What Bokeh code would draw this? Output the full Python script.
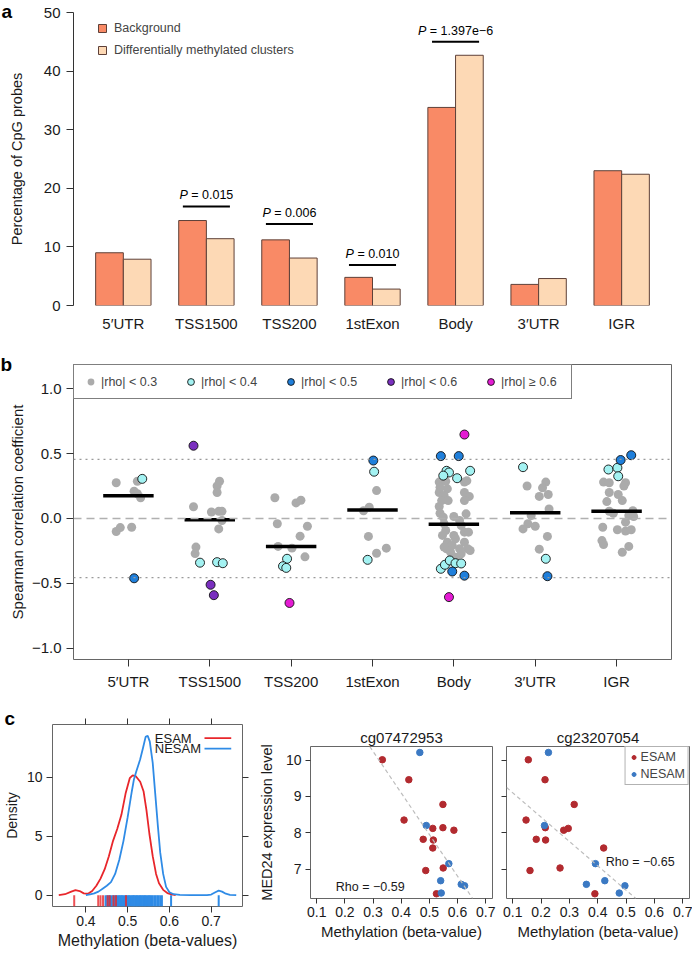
import math
from bokeh.plotting import figure
from bokeh.layouts import column, row
from bokeh.models import (Range1d, FixedTicker, Span, Legend, LegendItem, Title,
                          Slope, LinearAxis)
from bokeh.core.properties import value
from bokeh.embed import file_html
from bokeh.resources import INLINE

FONT = "Liberation Sans"

# ---------------- Panel a data ----------------
regions = ["5′UTR", "TSS1500", "TSS200", "1stExon", "Body", "3′UTR", "IGR"]
background_pct = [9.0, 14.5, 11.2, 4.8, 33.8, 3.6, 23.0]
dmc_pct = [7.9, 11.4, 8.1, 2.8, 42.7, 4.6, 22.4]
p_regions = ["TSS1500", "TSS200", "1stExon", "Body"]
p_values = ["0.015", "0.006", "0.010", "1.397e−6"]
p_bar_level = [16.9, 13.9, 6.9, 45.0]

# ---------------- Panel b data ----------------
median_rho = [0.175, -0.01, -0.215, 0.065, -0.045, 0.045, 0.055]
sig_level = 0.455

rho_5utr = [0.275, 0.287, 0.305, 0.21, 0.19, 0.16, -0.10, -0.07, -0.067, -0.46]
jit_5utr = [-0.15, 0.11, 0.17, 0.07, 0.11, 0.15, -0.15, -0.10, 0.04, 0.07]

rho_tss1500 = [0.56, 0.287, 0.25, 0.20, 0.09, 0.05, 0.055, 0.055, -0.015, -0.08,
               -0.22, -0.27, -0.34, -0.336, -0.344, -0.51, -0.59]
jit_tss1500 = [-0.20, 0.12, 0.09, 0.09, -0.20, 0.02, 0.11, 0.15, 0.15, 0.11,
               -0.17, -0.18, -0.12, 0.09, 0.16, 0.01, 0.05]

rho_tss200 = [0.16, 0.12, 0.14, -0.04, -0.06, -0.136, -0.215, -0.228, -0.295,
              -0.31, -0.367, -0.38, -0.65]
jit_tss200 = [-0.20, 0.06, 0.12, -0.17, 0.20, 0.11, -0.16, 0.01, 0.17,
              -0.05, -0.10, -0.06, -0.02]

rho_1stexon = [0.446, 0.36, 0.215, 0.087, 0.06, -0.138, -0.228, -0.267, -0.318]
jit_1stexon = [0.01, 0.02, 0.05, -0.04, -0.11, -0.05, 0.17, 0.05, -0.06]

rho_body = [0.646, 0.48, 0.48, 0.367, 0.354, 0.33, 0.31, 0.367, -0.387, -0.356,
            -0.323, -0.344, -0.346, -0.408, -0.44, -0.605,
            0.28, 0.287, 0.24, 0.228, 0.28, 0.29, 0.2, 0.177, 0.2, 0.17,
            0.138, 0.138, 0.138, 0.092, 0.04, 0.01, 0.015, 0.036, -0.015, -0.04,
            -0.054, -0.092, -0.13, -0.13, -0.105, -0.105, -0.156, -0.182, -0.182,
            -0.208, -0.233, -0.233, -0.233, -0.246, -0.259, -0.272, -0.22, -0.298]
jit_body = [0.13, -0.16, 0.06, -0.09, -0.06, -0.13, 0.04, 0.20, -0.16, -0.11,
            -0.05, 0.02, 0.09, -0.02, 0.13, -0.06,
            -0.18, -0.10, -0.17, -0.08, 0.13, 0.16, -0.18, -0.12, 0.13, 0.19,
            -0.15, -0.07, 0.13, -0.18, -0.17, -0.13, 0.0, 0.15, 0.07, -0.12,
            0.09, -0.10, -0.14, 0.0, 0.13, 0.18, 0.02, -0.08, 0.13,
            -0.02, -0.09, 0.07, 0.17, 0.20, -0.04, 0.09, -0.12, 0.02]

rho_3utr = [0.395, 0.25, 0.28, 0.236, 0.17, 0.185, 0.074, 0.023, -0.04, -0.08,
            -0.06, -0.138, -0.236, -0.31, -0.444]
jit_3utr = [-0.15, -0.10, 0.13, 0.09, 0.05, 0.16, 0.17, -0.05, -0.09, -0.15,
            0.0, 0.15, 0.05, 0.13, 0.15]

rho_igr = [0.487, 0.45, 0.377, 0.39, 0.325, 0.28, 0.275, 0.275, 0.25, 0.2, 0.185,
           0.13, 0.138, 0.056, 0.04, 0.06, 0.023, 0.015, -0.028, -0.067, -0.087,
           -0.097, -0.087, -0.17, -0.2, -0.215, -0.26]
jit_igr = [0.18, 0.05, -0.10, 0.01, 0.02, -0.16, -0.09, 0.11, 0.09, -0.09, 0.02,
           -0.12, 0.07, -0.09, -0.04, 0.20, 0.15, 0.21, 0.11, -0.17, 0.01,
           0.11, 0.18, -0.18, -0.16, 0.15, 0.07]

rho_lists = [rho_5utr, rho_tss1500, rho_tss200, rho_1stexon, rho_body, rho_3utr, rho_igr]
jit_lists = [jit_5utr, jit_tss1500, jit_tss200, jit_1stexon, jit_body, jit_3utr, jit_igr]

rho_bins = [0.0, 0.3, 0.4, 0.5, 0.6, 9.0]
rho_labels = ["|rho| < 0.3", "|rho| < 0.4", "|rho| < 0.5", "|rho| < 0.6", "|rho| ≥ 0.6"]
rho_colors = ["#ABABAB", "#A3F2F2", "#1F7FDB", "#7A2FBF", "#E41BD3"]

# ---------------- Panel c data ----------------
esam_dens_x = [0.335, 0.35, 0.365, 0.375, 0.385, 0.395, 0.405, 0.415, 0.425, 0.435,
               0.445, 0.455, 0.465, 0.475, 0.485, 0.495, 0.505, 0.512, 0.52, 0.53,
               0.538, 0.545, 0.552, 0.56, 0.568, 0.575, 0.585, 0.595, 0.605, 0.615]
esam_dens_y = [0.0, 0.08, 0.3, 0.42, 0.35, 0.15, 0.12, 0.35, 0.8, 1.4,
               2.2, 3.3, 4.6, 5.6, 6.8, 8.6, 9.9, 10.15, 10.05, 9.6,
               8.8, 7.2, 5.2, 3.3, 1.8, 1.0, 0.45, 0.18, 0.06, 0.0]
nesam_dens_x = [0.40, 0.41, 0.42, 0.43, 0.44, 0.45, 0.46, 0.47, 0.48, 0.49, 0.50,
                0.51, 0.515, 0.52, 0.53, 0.537, 0.543, 0.548, 0.553, 0.56, 0.566,
                0.572, 0.578, 0.585, 0.592, 0.60, 0.61, 0.625, 0.65, 0.69, 0.70,
                0.71, 0.718, 0.726, 0.735, 0.745, 0.76]
nesam_dens_y = [0.0, 0.06, 0.15, 0.3, 0.55, 0.8, 1.1, 1.8, 3.0, 4.6, 6.6,
                8.8, 9.8, 10.4, 11.5, 12.5, 13.4, 13.5, 13.0, 11.2, 8.6,
                6.0, 3.6, 1.8, 0.7, 0.25, 0.08, 0.02, 0.0, 0.0, 0.05,
                0.25, 0.38, 0.3, 0.12, 0.03, 0.0]
rug_esam = [0.372, 0.4295, 0.435, 0.441, 0.452, 0.457, 0.466, 0.472, 0.496]
rug_nesam = [0.447, 0.451, 0.455, 0.458, 0.462, 0.466, 0.469, 0.473, 0.476, 0.479,
             0.482, 0.485, 0.487, 0.49, 0.493, 0.496, 0.499, 0.502, 0.504, 0.507,
             0.51, 0.513, 0.515, 0.518, 0.521, 0.523, 0.526, 0.529, 0.531, 0.534,
             0.537, 0.54, 0.542, 0.545, 0.548, 0.551, 0.554, 0.557, 0.56, 0.564,
             0.567, 0.571, 0.574, 0.578, 0.582, 0.604, 0.718]

med24_esam = [10.01, 9.46, 8.35, 8.78, 8.12, 8.14, 8.07, 7.82, 7.80, 7.58, 6.96, 7.03, 6.32]
cg07472953_esam = [0.333, 0.427, 0.41, 0.548, 0.512, 0.548, 0.587, 0.478, 0.514, 0.512, 0.487, 0.549, 0.525]
cg23207054_esam = [0.155, 0.214, 0.147, 0.317, 0.296, 0.215, 0.28, 0.183, 0.216, 0.421, 0.161, 0.267, 0.39]
med24_nesam = [10.21, 8.20, 7.15, 6.68, 6.58, 6.54, 6.34]
cg07472953_nesam = [0.466, 0.489, 0.569, 0.54, 0.613, 0.625, 0.542]
cg23207054_nesam = [0.226, 0.212, 0.392, 0.425, 0.36, 0.496, 0.476]
fit_cg07472953 = (-11.46, 13.68)   # slope, intercept
fit_cg23207054 = (-6.70, 9.77)
rho_cg07472953 = "Rho = −0.59"
rho_cg23207054 = "Rho = −0.65"
rho_pos_cg07472953 = (0.29, 6.51)
rho_pos_cg23207054 = (0.55, 7.2)

# ---------------- helpers ----------------
CHAR_W = {"0": .556, "1": .556, "2": .556, "3": .556, "4": .556, "5": .556,
          "6": .556, "7": .556, "8": .556, "9": .556, ".": .278, "=": .584,
          " ": .278, "e": .556, "−": .584, "P": .667}


def text_width(s, size):
    return sum(CHAR_W.get(c, 0.556) for c in s) * size


def base_fig(**kw):
    p = figure(output_backend="svg", toolbar_location=None, **kw)
    p.grid.visible = False
    p.background_fill_color = "white"
    p.border_fill_color = "white"
    return p


def style_axis(ax, size="15px", tick_out=7, standoff=5):
    ax.major_label_text_font = FONT
    ax.major_label_text_font_size = size
    ax.major_label_text_color = "#1a1a1a"
    ax.axis_label_text_font = FONT
    ax.axis_label_text_font_style = "normal"
    ax.axis_label_text_color = "#1a1a1a"
    ax.minor_tick_line_color = None
    ax.major_tick_in = 0
    ax.major_tick_out = tick_out
    ax.major_tick_line_color = "#333333"
    ax.major_label_standoff = standoff


def tick_only_axis(ticks, tick_out=6):
    ax = LinearAxis(ticker=FixedTicker(ticks=ticks))
    ax.major_label_overrides = {t: "" for t in ticks}
    ax.major_label_text_font_size = "0px"
    ax.major_label_standoff = 0
    ax.axis_line_color = None
    ax.minor_tick_line_color = None
    ax.major_tick_in = 0
    ax.major_tick_out = tick_out
    ax.major_tick_line_color = "#333333"
    return ax


def panel_letter(p, letter, frame_left, standoff, valign="bottom"):
    t = Title(text=letter, align="left", offset=-frame_left, vertical_align=valign,
              text_font=FONT, text_font_style="bold", text_font_size="19px",
              text_color="black")
    try:
        t.standoff = standoff
    except Exception:
        t.standoff = 0
    p.add_layout(t, "above")


BOX = "#666666"

# ================= Panel a =================
pa = base_fig(width=692, height=340, x_range=Range1d(0.2, 21.8), y_range=Range1d(0, 50),
              min_border_left=72, min_border_right=14, min_border_top=12, min_border_bottom=35)
pa.outline_line_color = None
grp_center = [2 + 3 * i for i in range(len(regions))]
bg_x = [c - 0.5 for c in grp_center]
dmc_x = [c + 0.5 for c in grp_center]
r_bg = pa.vbar(x=bg_x, top=background_pct, bottom=0, width=1.0,
               fill_color="#F98A66", line_color="#5E4038", line_width=1)
r_dmc = pa.vbar(x=dmc_x, top=dmc_pct, bottom=0, width=1.0,
                fill_color="#FDD9B5", line_color="#5E4038", line_width=1)

ya = pa.yaxis[0]
style_axis(ya, "15px", 7, 6)
ya.ticker = FixedTicker(ticks=[0, 10, 20, 30, 40, 50])
ya.axis_label = "Percentage of CpG probes"
ya.axis_label_text_font_size = "14.5px"
ya.axis_label_standoff = 16
ya.axis_line_color = "#333333"

xa = pa.xaxis[0]
style_axis(xa, "15px", 0, 9)
xa.ticker = FixedTicker(ticks=grp_center)
xa.major_label_overrides = {c: r for c, r in zip(grp_center, regions)}
xa.axis_line_color = None
xa.major_tick_line_color = None

p_x = [grp_center[regions.index(r)] for r in p_regions]
pa.segment(x0=[x - 0.85 for x in p_x], x1=[x + 0.85 for x in p_x],
           y0=p_bar_level, y1=p_bar_level, line_color="black", line_width=2)
P_SIZE = 12.5
p_rest = ["= " + v for v in p_values]
wP = text_width("P", P_SIZE)
gap = text_width(" ", P_SIZE)
shifts = [wP - (wP + gap + text_width(s, P_SIZE)) / 2 for s in p_rest]
pa.text(x=p_x, y=p_bar_level, text=["P"] * len(p_x), x_offset=shifts, y_offset=-4,
        text_align="right", text_baseline="bottom", text_font=value(FONT),
        text_font_style="italic", text_font_size="12.5px", text_color="black")
pa.text(x=p_x, y=p_bar_level, text=p_rest, x_offset=[s + gap for s in shifts], y_offset=-4,
        text_align="left", text_baseline="bottom", text_font=value(FONT),
        text_font_size="12.5px", text_color="black")

leg_a = Legend(items=[LegendItem(label="Background", renderers=[r_bg]),
                      LegendItem(label="Differentially methylated clusters", renderers=[r_dmc])],
               location=(24, 248), orientation="vertical", padding=0, margin=0, spacing=8,
               glyph_width=10, glyph_height=10, label_height=10, label_standoff=7,
               border_line_color=None, background_fill_alpha=0,
               label_text_font=FONT, label_text_font_size="12.5px")
pa.add_layout(leg_a)
panel_letter(pa, "a", 72, -19)

# ================= Panel b =================
pb = base_fig(width=692, height=362, x_range=Range1d(0.325, 7.675), y_range=Range1d(-1.085, 1.185),
              min_border_left=73, min_border_right=21, min_border_top=24, min_border_bottom=43)
pb.outline_line_color = BOX
pb.add_layout(Span(location=sig_level, dimension="width", line_color="#9A9A9A",
                   line_dash="2 4", line_width=1.3))
pb.add_layout(Span(location=-sig_level, dimension="width", line_color="#9A9A9A",
                   line_dash="2 4", line_width=1.3))
pb.add_layout(Span(location=0, dimension="width", line_color="#B0B0B0",
                   line_dash="8 5", line_width=1.6))

xs_all, rho_all = [], []
for i, (rl, jl) in enumerate(zip(rho_lists, jit_lists)):
    for r, j in zip(rl, jl):
        xs_all.append(i + 1 + j)
        rho_all.append(r)

b_renderers = []
for k in range(len(rho_labels)):
    lo, hi = rho_bins[k], rho_bins[k + 1]
    sel = [n for n, r in enumerate(rho_all) if lo <= abs(r) < hi]
    xs = [xs_all[n] for n in sel]
    ys = [rho_all[n] for n in sel]
    if k == 0:
        rr = pb.scatter(xs, ys, size=9, fill_color=rho_colors[k], line_color=None)
    else:
        rr = pb.scatter(xs, ys, size=9, fill_color=rho_colors[k], line_color="#111111",
                        line_width=0.9)
    b_renderers.append(rr)

cat_pos = list(range(1, len(regions) + 1))
pb.segment(x0=[c - 0.31 for c in cat_pos], x1=[c + 0.31 for c in cat_pos],
           y0=median_rho, y1=median_rho, line_color="black", line_width=3.5)

yb = pb.yaxis[0]
style_axis(yb, "15px", 7, 5)
yb.ticker = FixedTicker(ticks=[-1, -0.5, 0, 0.5, 1])
yb.major_label_overrides = {1: "1.0", 0.5: "0.5", 0: "0.0", -0.5: "−0.5", -1: "−1.0"}
yb.axis_line_color = None
yb.axis_label = "Spearman correlation coefficient"
yb.axis_label_text_font_size = "15px"
yb.axis_label_standoff = 3

xb = pb.xaxis[0]
style_axis(xb, "15px", 7, 6)
xb.ticker = FixedTicker(ticks=cat_pos)
xb.major_label_overrides = {c: r for c, r in zip(cat_pos, regions)}
xb.axis_line_color = None

leg_b = Legend(items=[LegendItem(label=l, renderers=[r]) for l, r in zip(rho_labels, b_renderers)],
               location="top_left", orientation="horizontal", margin=0, padding=8, spacing=19,
               glyph_width=17, glyph_height=17, label_width=62, label_height=17, label_standoff=2,
               border_line_color="black", border_line_width=1,
               background_fill_color="white", background_fill_alpha=1,
               label_text_font=FONT, label_text_font_size="12.5px")
pb.add_layout(leg_b)
panel_letter(pb, "b", 73, -20)

# ================= Panel c: density =================
pc1 = base_fig(width=255, height=252, x_range=Range1d(0.32, 0.775), y_range=Range1d(-0.96, 14.45),
               min_border_left=48, min_border_right=13, min_border_top=22, min_border_bottom=48)
pc1.outline_line_color = BOX
ESAM_RED = "#E8262B"
NESAM_BLUE = "#2F8BE6"
pc1.segment(x0=rug_nesam, x1=rug_nesam, y0=-0.96, y1=0.0, line_color=NESAM_BLUE, line_width=2)
pc1.segment(x0=rug_esam, x1=rug_esam, y0=-0.96, y1=0.0, line_color=ESAM_RED, line_width=2,
            line_alpha=0.8)
pc1.line(esam_dens_x, esam_dens_y, line_color=ESAM_RED, line_width=1.8)
pc1.line(nesam_dens_x, nesam_dens_y, line_color=NESAM_BLUE, line_width=1.8)

leg_names = ["ESAM", "NESAM"]
leg_cols = [ESAM_RED, NESAM_BLUE]
leg_y = [13.3, 12.4]
pc1.text(x=[0.565, 0.565], y=leg_y, text=leg_names, text_align="left", text_baseline="middle",
         text_font=value(FONT), text_font_size="13px", text_color="#1a1a1a")
pc1.segment(x0=[0.684, 0.684], x1=[0.748, 0.748], y0=leg_y, y1=leg_y,
            line_color=leg_cols, line_width=1.8)

xc = pc1.xaxis[0]
style_axis(xc, "14px", 6, 3)
xc.ticker = FixedTicker(ticks=[0.4, 0.5, 0.6, 0.7])
xc.axis_line_color = None
xc.axis_label = "Methylation (beta-values)"
xc.axis_label_text_font_size = "16px"
xc.axis_label_standoff = 3
yc = pc1.yaxis[0]
style_axis(yc, "14px", 6, 4)
yc.ticker = FixedTicker(ticks=[0, 5, 10])
yc.axis_line_color = None
yc.axis_label = "Density"
yc.axis_label_text_font_size = "14px"
yc.axis_label_standoff = 4
pc1.add_layout(tick_only_axis([0.4, 0.5, 0.6, 0.7]), "above")
pc1.add_layout(tick_only_axis([0, 5, 10]), "right")
panel_letter(pc1, "c", 48, -20)

# ================= Panel c: scatter plots =================
ESAM_DOT = "#B22A2F"
NESAM_DOT = "#3B79C3"


def scatter_panel(title, meth_esam, meth_nesam, fit, rho_txt, rho_pos, width, bl, br, show_labels):
    p = base_fig(width=width, height=252, x_range=Range1d(0.078, 0.724), y_range=Range1d(6.19, 10.375),
                 min_border_left=bl, min_border_right=br, min_border_top=44, min_border_bottom=56,
                 title=title)
    p.title.text_font = FONT
    p.title.text_font_style = "normal"
    p.title.text_font_size = "15px"
    p.title.align = "center"
    p.title.standoff = 2
    p.title.text_color = "#1a1a1a"
    p.outline_line_color = BOX
    p.add_layout(Slope(gradient=fit[0], y_intercept=fit[1], line_color="#BDBDBD",
                       line_dash="4 3", line_width=1.2))
    re = p.scatter(meth_esam, med24_esam, size=6.5, fill_color=ESAM_DOT, line_color=ESAM_DOT)
    rn = p.scatter(meth_nesam, med24_nesam, size=6.5, fill_color=NESAM_DOT, line_color=NESAM_DOT)
    p.text(x=[rho_pos[0]], y=[rho_pos[1]], text=[rho_txt], text_align="center",
           text_baseline="middle", text_font=value(FONT), text_font_size="12.5px",
           text_color="#1a1a1a")
    xa_ = p.xaxis[0]
    style_axis(xa_, "14px", 5, 3)
    xa_.ticker = FixedTicker(ticks=[0.1, 0.2, 0.3, 0.4, 0.5, 0.6, 0.7])
    xa_.axis_line_color = None
    xa_.axis_label = "Methylation (beta-value)"
    xa_.axis_label_text_font_size = "15px"
    xa_.axis_label_standoff = 3
    ya_ = p.yaxis[0]
    ya_.ticker = FixedTicker(ticks=[7, 8, 9, 10])
    ya_.axis_line_color = None
    if show_labels:
        style_axis(ya_, "14px", 5, 4)
        ya_.axis_label = "MED24 expression level"
        ya_.axis_label_text_font_size = "14.5px"
        ya_.axis_label_standoff = 8
    else:
        style_axis(ya_, "0px", 5, 0)
        ya_.major_label_overrides = {t: "" for t in [7, 8, 9, 10]}
    return p, re, rn


ps1, _, _ = scatter_panel("cg07472953", cg07472953_esam, cg07472953_nesam, fit_cg07472953,
                          rho_cg07472953, rho_pos_cg07472953, 244, 54, 7, True)
ps2, re2, rn2 = scatter_panel("cg23207054", cg23207054_esam, cg23207054_nesam, fit_cg23207054,
                              rho_cg23207054, rho_pos_cg23207054, 193, 7, 3, False)

leg_c = Legend(items=[LegendItem(label="ESAM", renderers=[re2]),
                      LegendItem(label="NESAM", renderers=[rn2])],
               location="top_right", orientation="vertical", margin=0, padding=3, spacing=3,
               glyph_width=10, glyph_height=12, label_height=12, label_standoff=2,
               border_line_color=BOX, border_line_width=1,
               background_fill_color="white", background_fill_alpha=1,
               label_text_font=FONT, label_text_font_size="12.5px")
ps2.add_layout(leg_c)

layout = column(pa, pb, row(column(pc1), row(ps1, ps2, spacing=0), spacing=0), spacing=0)
open("out.html", "w").write(file_html(layout, INLINE))
